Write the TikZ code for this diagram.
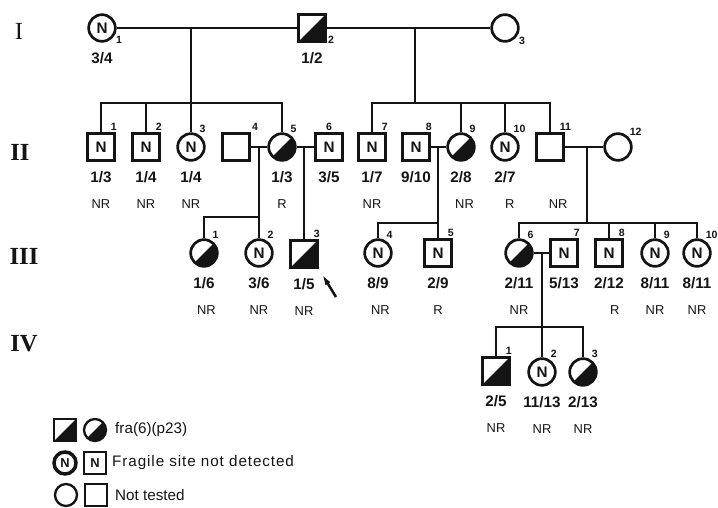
\documentclass[tikz,border=0pt]{standalone}
\usepackage{fontspec}
\setmainfont{Liberation Sans}
\newfontfamily\romfont{Liberation Serif}
\usetikzlibrary{calc, arrows.meta}
\definecolor{ink}{RGB}{20, 20, 20}

\begin{document}
\begin{tikzpicture}[
            x=0.03cm, y=-0.03cm,
            person/.style={draw=ink, line width=2.3pt, inner sep=0pt, text=ink, font=\fontsize{13}{15}\selectfont\bfseries},
            male/.style={person, rectangle, minimum size=0.8cm},
            female/.style={person, circle, minimum size=0.8cm},
            affected/.style={path picture={\fill[ink] (path picture bounding box.south west) -- (path picture bounding box.south east) -- (path picture bounding box.north east) -- cycle;}},
            num/.style={font=\fontsize{9}{10}\selectfont\bfseries, inner sep=1pt, text=ink},
            frac/.style={font=\fontsize{13}{15}\selectfont\bfseries, inner sep=0pt, yshift=-0.3cm, text=ink},
            resp/.style={font=\fontsize{11}{13}\selectfont, inner sep=0pt, yshift=-1.12cm, text=ink},
            line/.style={line width=1.6pt, ink},
            proband/.style={-{Latex[length=10pt, width=5pt]}, line width=2.2pt, ink, shorten >=5pt},
            gen/.style={font=\romfont\fontsize{21}{23}\selectfont\bfseries, text=ink},
            keysym/.style={draw=ink, line width=2pt, inner sep=0pt, minimum size=0.66cm, text=ink, font=\fontsize{11}{13}\selectfont\bfseries},
            keytext/.style={anchor=west, font=\fontsize{13}{15}\selectfont, inner sep=0pt, text=ink}
        ]
            \useasboundingbox (0,0) rectangle (718,508);

            % generation numerals
            \node[gen, font=\romfont\fontsize{21}{23}\selectfont] (gI) at (19,31) {I};
            \node[gen] (gII) at (20,152) {II};
            \node[gen] (gIII) at (24,256) {III};
            \node[gen] (gIV) at (24,344) {IV};

            % generation I
            \node[female, label={[num]-30:1}, label={[frac]below:3/4}] (i1) at (102,28) {N};
            \node[male, affected, label={[num]-25:2}, label={[frac]below:1/2}] (i2) at (312,28) {};
            \node[female, label={[num]-30:3}] (i3) at (505,28) {};

            % generation II
            \node[male, label={[num]60:1}, label={[frac]below:1/3}, label={[resp]below:NR}] (ii1) at (101,147) {N};
            \node[male, label={[num]60:2}, label={[frac]below:1/4}, label={[resp]below:NR}] (ii2) at (146,147) {N};
            \node[female, label={[num]60:3}, label={[frac]below:1/4}, label={[resp]below:NR}] (ii3) at (191,147) {N};
            \node[male, label={[num]45:4}] (ii4) at (236,147) {};
            \node[female, affected, label={[num]60:5}, label={[frac]below:1/3}, label={[resp]below:R}] (ii5) at (282,147) {};
            \node[male, label={[num]90:6}, label={[frac]below:3/5}] (ii6) at (329,147) {N};
            \node[male, label={[num]60:7}, label={[frac]below:1/7}, label={[resp]below:NR}] (ii7) at (372,147) {N};
            \node[male, label={[num]60:8}, label={[frac]below:9/10}] (ii8) at (416,147) {N};
            \node[female, affected, label={[num]60:9}, label={[frac]below:2/8}, label={[resp, xshift=3pt]below:NR}] (ii9) at (461,147) {};
            \node[female, label={[num]60:10}, label={[frac]below:2/7}, label={[resp, xshift=4pt]below:R}] (ii10) at (505,147) {N};
            \node[male, label={[num]60:11}, label={[resp, xshift=7pt]below:NR}] (ii11) at (550,147) {};
            \node[female, label={[num]45:12}] (ii12) at (618,147) {};

            % generation III
            \node[female, affected, label={[num]60:1}, label={[frac]below:1/6}, label={[resp, xshift=2pt]below:NR}] (iii1) at (204,253) {};
            \node[female, label={[num]60:2}, label={[frac]below:3/6}, label={[resp]below:NR}] (iii2) at (259,253) {N};
            \node[male, affected, label={[num]60:3}, label={[frac]below:1/5}, label={[resp]below:NR}] (iii3) at (304,254) {};
            \node[female, label={[num]60:4}, label={[frac]below:8/9}, label={[resp, xshift=2pt]below:NR}] (iii4) at (378,253) {N};
            \node[male, label={[num]60:5}, label={[frac]below:2/9}, label={[resp]below:R}] (iii5) at (438,253) {N};
            \node[female, affected, label={[num]60:6}, label={[frac]below:2/11}, label={[resp]below:NR}] (iii6) at (519,253) {};
            \node[male, label={[num]60:7}, label={[frac]below:5/13}] (iii7) at (564,253) {N};
            \node[male, label={[num]60:8}, label={[frac]below:2/12}, label={[resp, xshift=5pt]below:R}] (iii8) at (609,253) {N};
            \node[female, label={[num]60:9}, label={[frac]below:8/11}, label={[resp]below:NR}] (iii9) at (655,253) {N};
            \node[female, label={[num]60:10}, label={[frac]below:8/11}, label={[resp]below:NR}] (iii10) at (697,253) {N};

            % generation IV
            \node[male, affected, label={[num]60:1}, label={[frac]below:2/5}, label={[resp]below:NR}] (iv1) at (496,371) {};
            \node[female, label={[num]60:2}, label={[frac]below:11/13}, label={[resp]below:NR}] (iv2) at (542,372) {N};
            \node[female, affected, label={[num]60:3}, label={[frac]below:2/13}, label={[resp]below:NR}] (iv3) at (583,372) {};

            % mating and descent points
            \coordinate (m1) at (191,28);
            \coordinate (s1) at (191,103);
            \coordinate (m2) at (415,28);
            \coordinate (s2) at (415,103);
            \coordinate (m3) at (259,147);
            \coordinate (s3) at (259,217);
            \coordinate (m4) at (304,147);
            \coordinate (m5) at (438,147);
            \coordinate (s4) at (438,223);
            \coordinate (m6) at (587,147);
            \coordinate (s5) at (587,223);
            \coordinate (m7) at (542,253);
            \coordinate (s6) at (542,327);
            \coordinate (pb) at (336,297);

            \draw[line] (i1) -- (i2);
            \draw[line] (i2) -- (i3);
            \draw[line] (m1) -- (s1);
            \draw[line] (ii1.north) |- (s1) -| (ii5.north);
            \draw[line] (ii2.north) -- (ii2.north |- s1);
            \draw[line] (ii3.north) -- (s1);
            \draw[line] (m2) -- (s2);
            \draw[line] (ii7.north) |- (s2) -| (ii11.north);
            \draw[line] (ii9.north) -- (ii9.north |- s2);
            \draw[line] (ii10.north) -- (ii10.north |- s2);

            \draw[line] (ii4) -- (ii5);
            \draw[line] (ii5) -- (ii6);
            \draw[line] (ii8) -- (ii9);
            \draw[line] (ii11) -- (ii12);
            \draw[line] (m3) -- (s3);
            \draw[line] (iii1.north) |- (s3) -- (iii2.north);
            \draw[line] (m4) -- (iii3.north);
            \draw[line] (m5) -- (s4);
            \draw[line] (iii4.north) |- (s4) -- (iii5.north);
            \draw[line] (m6) -- (s5);
            \draw[line] (iii6.north) |- (s5) -| (iii10.north);
            \draw[line] (iii8.north) -- (iii8.north |- s5);
            \draw[line] (iii9.north) -- (iii9.north |- s5);

            \draw[line] (iii6) -- (iii7);
            \draw[line] (m7) -- (s6);
            \draw[line] (iv1.north) |- (s6) -| (iv3.north);
            \draw[line] (s6) -- (iv2.north);

            \draw[proband] (pb) -- (iii3.south east);

            % key
            \node[keysym, rectangle, affected] (k1) at (65,430) {};
            \node[keysym, circle, affected] (k2) at (95,430) {};
            \node[keytext] (t1) at (115,430) {fra(6)(p23)};
            \node[keysym, circle, line width=3pt] (k3) at (65,463) {N};
            \node[keysym, rectangle] (k4) at (95,463) {N};
            \node[keytext, font=\fontsize{13}{15}\selectfont\addfontfeature{LetterSpace=6}] (t2) at (112,463) {Fragile site not detected};
            \node[keysym, circle] (k5) at (66,495) {};
            \node[keysym, rectangle] (k6) at (96,495) {};
            \node[keytext] (t3) at (115,495) {Not tested};
        \end{tikzpicture}
\end{document}
